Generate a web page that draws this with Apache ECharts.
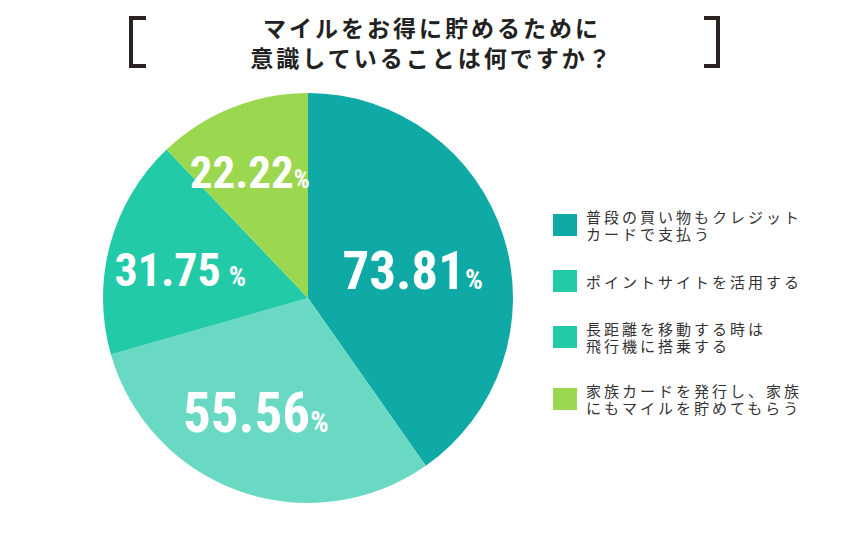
<!DOCTYPE html>
<html>
<head>
<meta charset="utf-8">
<script src="https://cdn.jsdelivr.net/npm/echarts@6/dist/echarts.min.js"></script>
<style>
    html, body { margin: 0; padding: 0; background: #fff; }
    #pie-chart { width: 850px; height: 560px; }
    /* 日本語テキストだけ字間を広げる */
    #pie-chart text[style*="CJK"] { letter-spacing: 3px; }
</style>
</head>
<body>
<div id="pie-chart"></div>
<script>
    var titleText = 'マイルをお得に貯めるために\n意識していることは何ですか？';
    var categories = [
        '普段の買い物もクレジット\nカードで支払う',
        'ポイントサイトを活用する',
        '長距離を移動する時は\n飛行機に搭乗する',
        '家族カードを発行し、家族\nにもマイルを貯めてもらう'
    ];
    var values = [73.81, 55.56, 31.75, 22.22];
    var colors = ['#0faaa5', '#6ad9c4', '#22caa8', '#9bd84f'];
    var legendColors = ['#0faaa5', '#22caa8', '#22caa8', '#9bd84f'];

    var numFont = '"Liberation Sans Narrow", "Roboto Condensed", Roboto, sans-serif';

    // ラベルの大きさと位置調整
    var labelLayout = [
        { num: 53, pct: 28, gap: 0, offset: [4, 5] },
        { num: 55, pct: 29, gap: 0, offset: [-17, 16] },
        { num: 46, pct: 27, gap: 8, offset: [-26, 0] },
        { num: 45, pct: 25, gap: 0, offset: [-19, -28] }
    ];

    var myChart = echarts.init(document.getElementById('pie-chart'), null, { renderer: 'svg' });

    var pieData = values.map(function (v, i) {
        var l = labelLayout[i];
        return {
            name: categories[i],
            value: v,
            itemStyle: { color: colors[i] },
            label: {
                offset: l.offset,
                rich: {
                    n: {
                        fontSize: l.num,
                        lineHeight: l.num,
                        fontWeight: 'bold',
                        fontFamily: numFont,
                        color: '#fff',
                        verticalAlign: 'bottom'
                    },
                    p: {
                        fontSize: l.pct,
                        lineHeight: l.pct,
                        fontWeight: 'bold',
                        fontFamily: numFont,
                        color: '#fff',
                        verticalAlign: 'bottom',
                        padding: [0, 0, Math.round((l.num - l.pct) * 0.15), l.gap]
                    }
                }
            }
        };
    });

    myChart.setOption({
        animation: false,
        legend: {
            orient: 'vertical',
            left: 548,
            top: 203,
            itemGap: 28,
            itemWidth: 24,
            itemHeight: 22,
            icon: 'rect',
            selectedMode: false,
            textStyle: {
                fontSize: 15,
                lineHeight: 17,
                color: '#333',
                fontFamily: 'Noto Sans CJK JP',
                padding: [0, 0, 0, 4]
            },
            data: categories.map(function (c, i) {
                return { name: c, itemStyle: { color: legendColors[i] } };
            })
        },
        graphic: [
            {
                type: 'text',
                x: 432,
                y: 12,
                style: {
                    text: titleText,
                    fontSize: 23,
                    lineHeight: 30,
                    fontWeight: 'bold',
                    fontFamily: 'Noto Sans CJK JP',
                    fill: '#222',
                    textAlign: 'center',
                    textVerticalAlign: 'top'
                }
            },
            {
                type: 'polyline',
                shape: { points: [[146, 18], [131, 18], [131, 66], [146, 66]] },
                style: { stroke: '#2b2222', lineWidth: 4, fill: null }
            },
            {
                type: 'polyline',
                shape: { points: [[704, 18], [718, 18], [718, 66], [704, 66]] },
                style: { stroke: '#2b2222', lineWidth: 4, fill: null }
            }
        ],
        series: [{
            type: 'pie',
            center: [308, 298],
            radius: 205,
            startAngle: 90,
            clockwise: true,
            emphasis: { disabled: true },
            label: {
                show: true,
                position: 'inside',
                formatter: function (p) {
                    return '{n|' + p.value.toFixed(2) + '}{p|%}';
                }
            },
            labelLine: { show: false },
            data: pieData
        }]
    });
</script>
</body>
</html>
